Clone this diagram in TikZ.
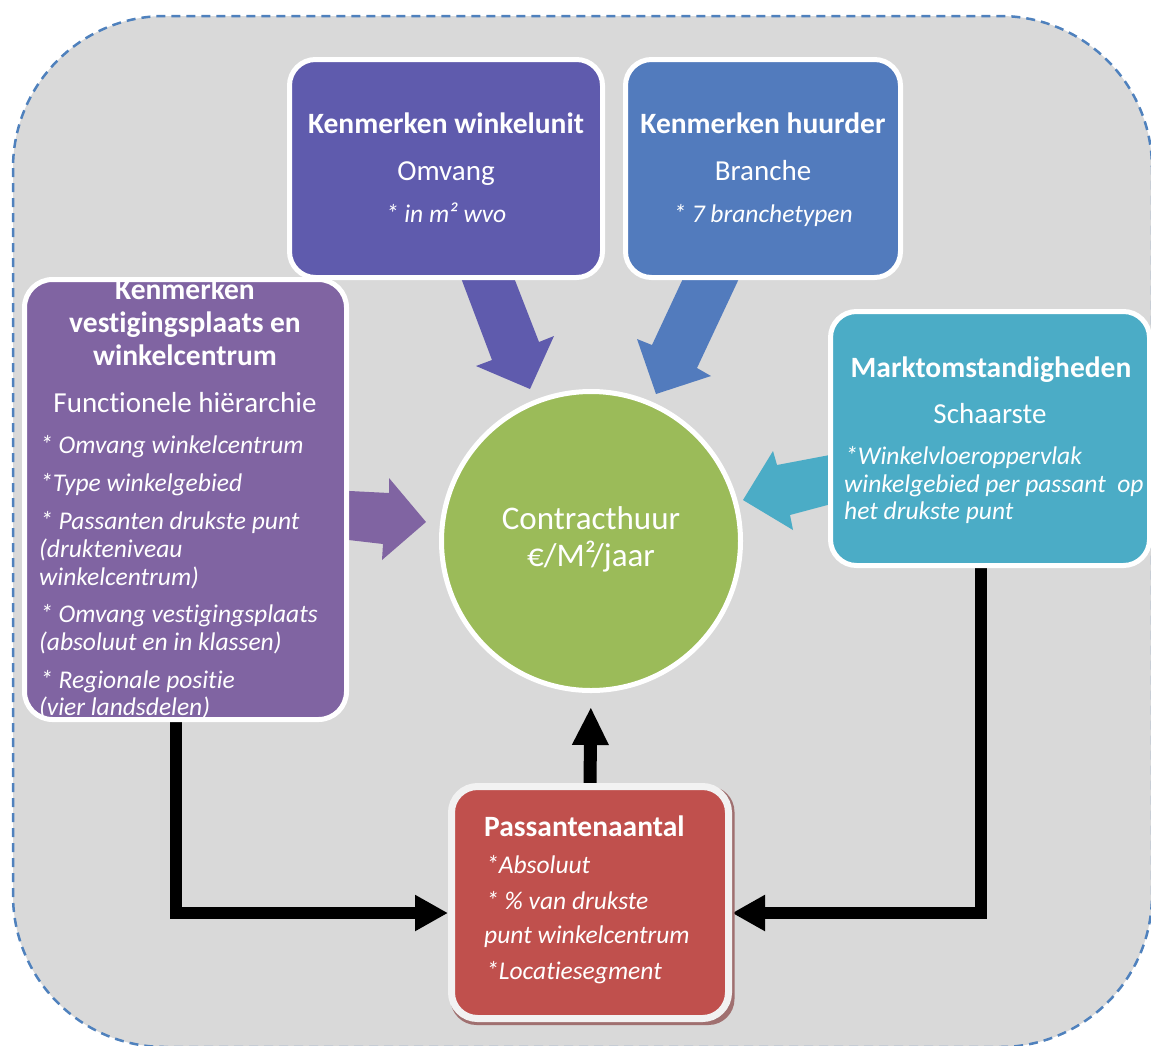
\documentclass[tikz,border=0pt]{standalone}
\usepackage{fontspec}
\setmainfont{Carlito}[Ligatures=NoCommon]
\usetikzlibrary{arrows.meta,backgrounds}
\definecolor{bggray}{HTML}{D9D9D9}
\definecolor{dashblue}{HTML}{4F81BD}
\definecolor{cUnit}{HTML}{5F5BAD}
\definecolor{cHuur}{HTML}{527BBD}
\definecolor{cVest}{HTML}{8064A2}
\definecolor{cMarkt}{HTML}{4BACC6}
\definecolor{cGreen}{HTML}{9BBB59}
\definecolor{cPas}{HTML}{C0504D}
\definecolor{boxgray}{HTML}{F2F2F2}
\definecolor{shadowred}{HTML}{A07070}
\tikzset{
  box/.style={rounded corners=26pt, draw=white, line width=5pt, inner sep=0pt},
  ttl/.style={text=white, inner sep=0pt, anchor=base, font=\fontsize{29.5}{32}\selectfont\bfseries},
  sub/.style={text=white, inner sep=0pt, anchor=base, font=\fontsize{29}{32}\selectfont},
  itl/.style={text=white, inner sep=0pt, anchor=base west, font=\fontsize{25.5}{28}\selectfont\itshape},
  itc/.style={itl, anchor=base},
  conn/.style={draw=black, line width=12pt, line join=miter},
}
\begin{document}
\begin{tikzpicture}[x=1pt,y=-1pt]
\useasboundingbox (0,0) rectangle (1151,1045);
% boxes
\node[box, fill=cUnit, minimum width=313pt, minimum height=218pt] (unit) at (446,168.5) {};
\node[box, fill=cHuur, minimum width=275pt, minimum height=218pt] (huur) at (763,168.5) {};
\node[box, fill=cVest, minimum width=322pt, minimum height=440pt, rounded corners=28pt] (vest) at (185.5,499.5) {};
\node[box, fill=cMarkt, minimum width=319pt, minimum height=254pt] (markt) at (990,438.5) {};
\node[box, fill=cPas, draw=boxgray, line width=7pt, minimum width=277pt, minimum height=232pt] (pas) at (590,902.5) {};
\node[circle, fill=cGreen, draw=white, line width=5pt, minimum size=299pt, inner sep=0pt] (circ) at (591,541) {};
% texts: winkelunit
\node[ttl] (t1a) at (446,133) {Kenmerken winkelunit};
\node[sub] (t1b) at (446,180) {Omvang};
\node[itc] (t1c) at (446,222) {* in m² wvo};
% huurder
\node[ttl] (t2a) at (763,133) {Kenmerken huurder};
\node[sub] (t2b) at (763,180) {Branche};
\node[itc] (t2c) at (763,222) {* 7 branchetypen};
% vestigingsplaats
\begin{scope}
\clip[rounded corners=25pt] (27,282) rectangle (344,717);
\node[ttl] (t3a) at (185,299) {Kenmerken};
\node[ttl] (t3b) at (185,332) {vestigingsplaats en};
\node[ttl] (t3c) at (185,365) {winkelcentrum};
\node[sub] (t3d) at (185,412) {Functionele hiërarchie};
\node[itl] (t3e) at (40,453) {* Omvang winkelcentrum};
\node[itl] (t3f) at (40,491) {*Type winkelgebied};
\node[itl] (t3g) at (40,529) {* Passanten drukste punt};
\node[itl] (t3h) at (39,557) {(drukteniveau};
\node[itl] (t3i) at (39,585) {winkelcentrum)};
\node[itl] (t3j) at (40,622) {* Omvang vestigingsplaats};
\node[itl] (t3k) at (39,650) {(absoluut en in klassen)};
\node[itl] (t3l) at (40,688) {* Regionale positie};
\node[itl] (t3m) at (39,715) {(vier landsdelen)};
\end{scope}
% markt
\node[ttl] (t4a) at (991,377) {Marktomstandigheden};
\node[sub] (t4b) at (990,423) {Schaarste};
\node[itl] (t4c) at (845,464) {*Winkelvloeroppervlak};
\node[itl] (t4d) at (844,492) {winkelgebied per passant\ \ op};
\node[itl] (t4e) at (844,519) {het drukste punt};
% passanten
\node[ttl, anchor=base west] (t5a) at (484,836) {Passantenaantal};
\node[itl] (t5b) at (486,873) {*Absoluut};
\node[itl] (t5c) at (486,909) {* \% van drukste};
\node[itl] (t5d) at (484,943) {punt winkelcentrum};
\node[itl] (t5e) at (486,979) {*Locatiesegment};
% circle text
\node[sub, font=\fontsize{33}{36}\selectfont] (t6a) at (591,529) {Contracthuur};
\node[sub, font=\fontsize{33}{36}\selectfont] (t6b) at (591,566) {€/M²/jaar};
\begin{pgfonlayer}{background}
\fill[bggray, rounded corners=152pt] (13,16) rectangle (1152,1047);
\draw[dashblue, line width=2.5pt, dash pattern=on 9pt off 6pt, rounded corners=152pt] (13,16) rectangle (1152,1047);
% block arrows
\fill[cUnit] (458,270) -- (511,270) -- (539,342) -- (554,336) -- (530,389) -- (476,366) -- (492,360) -- cycle;
\fill[cHuur] (687,270) -- (743,270) -- (697,368) -- (711,376) -- (656,394) -- (637,339) -- (652,345) -- cycle;
\fill[cVest] (340,490.5) -- (389,493) -- (389,478) -- (426,522) -- (382,560) -- (383,544) -- (340,539) -- cycle;
\fill[cMarkt] (835,454) -- (777,465) -- (773,451) -- (743,500) -- (793,530) -- (790,515) -- (835,503) -- cycle;
% black connectors
\draw[conn, -{Triangle[length=33pt,width=34pt]}] ([xshift=-9.5pt]vest.south) |- ([yshift=-10.5pt]pas.west);
\draw[conn, -{Triangle[length=33pt,width=34pt]}] ([xshift=-9pt]markt.south) |- ([yshift=-10.5pt]pas.east);
\draw[conn, line width=13pt, shorten >=14pt, -{Triangle[length=38pt,width=34pt]}] (pas.north) -- (circ.south);
% shadow
\fill[shadowred, rounded corners=26pt] ([shift={(2.5pt,-3pt)}]pas.south west) rectangle ([shift={(2.5pt,-3pt)}]pas.north east);
\end{pgfonlayer}
\end{tikzpicture}
\end{document}
